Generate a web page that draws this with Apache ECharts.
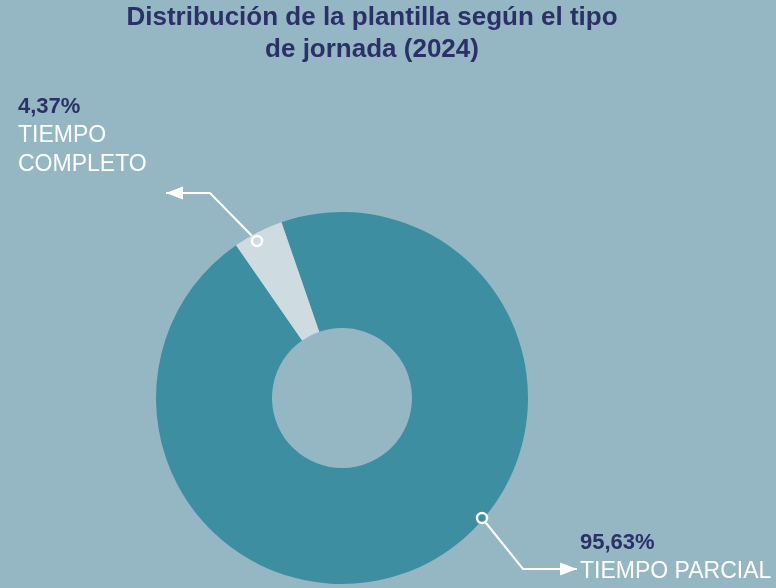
<!DOCTYPE html>
<html>
<head>
<meta charset="utf-8">
<script src="https://cdn.jsdelivr.net/npm/echarts@6/dist/echarts.min.js"></script>
<style>
  html, body { margin: 0; padding: 0; background: #95b7c4; }
  #chart { width: 776px; height: 588px; }
</style>
</head>
<body>
<div id="chart"></div>
<script>
const NAMES = ['TIEMPO PARCIAL', 'TIEMPO COMPLETO']
const VALUES = [95.63, 4.37]
const PCT_LABELS = ['95,63%', '4,37%']
const NAME_LINES = [['TIEMPO PARCIAL'], ['TIEMPO', 'COMPLETO']]

const BG = '#95b7c4'
const COLORS = ['#3c8ea0', '#cedce2']
const NAVY = '#2b3068'

// leader lines: dot on the ring, elbow, arrow tip
const LEADERS = [
  [[482, 518], [523, 569], [577, 569]],
  [[257, 241], [210, 193], [166, 193]]
]
// where each label block starts (top-left)
const LABEL_POS = [[580, 529], [18, 93]]

const myChart = echarts.init(document.getElementById('chart'))

function arrowHead(tip, dir) {
  const len = 17, half = 6.5
  return {
    type: 'polygon',
    shape: {
      points: [
        tip,
        [tip[0] - dir * len, tip[1] - half],
        [tip[0] - dir * len, tip[1] + half]
      ]
    },
    style: { fill: '#ffffff' },
    z: 10
  }
}

function dot(p, color) {
  return {
    type: 'circle',
    shape: { cx: p[0], cy: p[1], r: 5 },
    style: { fill: color, stroke: '#ffffff', lineWidth: 2.5 },
    z: 11
  }
}

const graphics = []
LEADERS.forEach(function (pts, i) {
  const dir = pts[2][0] > pts[1][0] ? 1 : -1
  graphics.push(arrowHead(pts[2], dir))
  graphics.push(dot(pts[0], COLORS[i]))
})

const option = {
  backgroundColor: BG,
  animation: false,
  title: {
    text: 'Distribución de la plantilla según el tipo\nde jornada (2024)',
    left: 367,
    top: -3,
    textAlign: 'center',
    textStyle: {
      fontFamily: 'Liberation Sans Narrow, Liberation Sans, Arial',
      fontWeight: 'bold',
      fontSize: 26,
      lineHeight: 32,
      color: NAVY
    }
  },
  graphic: graphics,
  series: [
    {
      type: 'pie',
      center: [342, 398],
      radius: [70, 186],
      startAngle: 109,
      clockwise: true,
      silent: true,
      itemStyle: { borderWidth: 0 },
      data: NAMES.map(function (n, i) {
        return { name: n, value: VALUES[i], itemStyle: { color: COLORS[i] } }
      }),
      label: {
        show: true,
        position: 'outside',
        formatter: function (p) {
          const lines = ['{pct|' + PCT_LABELS[p.dataIndex] + '}']
          NAME_LINES[p.dataIndex].forEach(function (l) {
            lines.push('{name|' + l + '}')
          })
          return lines.join('\n')
        },
        rich: {
          pct: {
            fontFamily: 'Liberation Sans, Arial',
            fontWeight: 'bold',
            fontSize: 22,
            lineHeight: 28,
            color: NAVY
          },
          name: {
            fontFamily: 'Liberation Sans, Arial',
            fontSize: 23,
            lineHeight: 29,
            color: '#ffffff'
          }
        }
      },
      labelLine: {
        show: true,
        lineStyle: { color: '#ffffff', width: 2 }
      },
      labelLayout: function (params) {
        const i = params.dataIndex
        return {
          x: LABEL_POS[i][0],
          y: LABEL_POS[i][1],
          align: 'left',
          verticalAlign: 'top',
          labelLinePoints: LEADERS[i]
        }
      }
    }
  ]
}

myChart.setOption(option)
</script>
</body>
</html>
